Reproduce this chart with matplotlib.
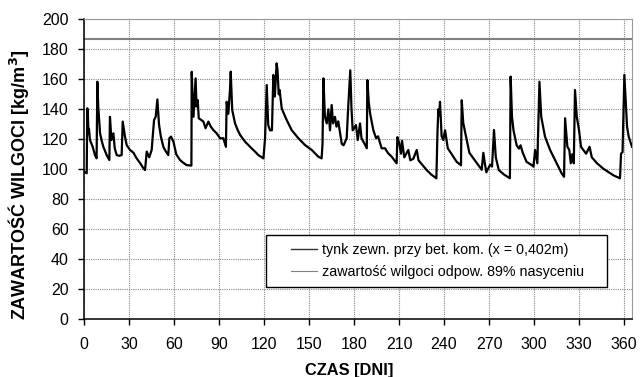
import matplotlib
matplotlib.use('Agg')
import matplotlib.pyplot as plt
from matplotlib.patches import Rectangle

plt.rcParams['font.family'] = ['Liberation Sans', 'DejaVu Sans']

# moisture content of external plaster
days = [
    0, 1.8, 2.2, 2.6, 3.0, 3.3, 4.0, 5.0, 5.8, 7.3, 8.4,
    8.9, 9.5, 10.7, 11.8, 12.9, 15.1, 16.9,
    17.3, 18.3, 19.6, 20.5, 21.8, 23.5, 25.1,
    25.8, 27.3, 28.5, 30.7, 33, 35.1, 37.5, 39.6, 40.7,
    41.8, 43.5, 45.1, 46.7, 47.8, 48.9, 50.0, 51.2, 52.9, 54.5, 56.2,
    56.9, 58.0, 59.6, 61.5, 64.0, 66, 68.4, 71.6,
    71.8, 72.3, 73.0, 74.4, 75.0, 75.8, 76.5, 78.0, 79.6, 81.0, 82.9, 84.5, 86.2, 88.4, 90.7, 92.9, 94.6,
    95.1, 96.2, 97.3, 97.8, 98.8, 100.7, 102.3, 104.0, 107.3, 110.7, 114.0, 116.2, 119.6,
    120.7, 121.8, 122.8, 124.0, 125.3, 126.2, 127.2, 128.4, 129.0, 129.8, 130.4, 131.8, 133.5, 135.1, 138.4,
    142.9, 147.3, 151.8, 156.2, 158.4,
    159.0, 159.6, 160.6, 161.8, 162.9, 164.0, 165.1, 166.0, 167.3, 168.3, 169.5, 171.8, 173.0, 175.1, 176.2,
    177.5, 178.3, 179.1, 181.3, 182.5, 184.0, 185.0, 187.0, 188.5,
    188.9, 189.8, 190.7, 192.9, 194.7, 196.0, 198.4, 200.7, 202.5, 205.1, 208.4,
    208.9, 210.2, 211.3, 212.0, 213.5, 216.2, 217.5, 219.5, 221.8, 223.0, 225.5, 228.4, 231.5, 234.9,
    235.6, 236.2, 236.9, 237.3, 238.4, 239.5, 240.7, 241.5, 242.5, 244.5, 248.4, 251.3,
    251.8, 252.8, 254.0, 256.9, 260.5, 265.1, 266.2, 267.2, 268.2, 270.7, 272.0,
    273.3, 274.5, 276.5, 280.0, 283.9,
    284.4, 285.3, 286.3, 288.4, 290.0, 291.0, 292.5, 295.0, 298.4, 299.6, 300.7, 302.2,
    303.6, 304.8, 307.3, 310.7, 314.0, 318.4, 320.0,
    320.7, 322.2, 323.5, 324.5, 325.5, 326.5,
    327.3, 328.5, 330.0, 331.3, 334.7, 337.0, 338.5, 342.0, 346.2, 352.9, 357.3,
    358.0, 359.0, 360.2, 361.2, 362.0, 363.1, 365.3,
]
moisture = [
    98.4, 97.4, 140.7, 136, 124, 127, 119.5, 117, 115, 109.5, 107.3,
    158.4, 141.8, 124, 119, 115, 109.5, 106.2,
    135, 119.5, 124, 114, 109.5, 109, 109.5,
    131.8, 121.8, 116, 112.9, 111, 107.3, 104, 100.7, 99.5,
    111.8, 108, 112.9, 132.9, 135, 146.6, 130, 122, 115, 112, 109.5,
    120.7, 121.8, 118.5, 110, 106.2, 104.5, 102.8, 102.5,
    165, 150.6, 135, 160.6, 141.8, 146.2, 134, 133, 131.8, 127.4, 131.8, 128.5, 126.2, 124, 120.7, 120.7, 115,
    145, 137, 152.9, 165.1, 139.5, 130.6, 126.5, 123, 118.5, 115, 111.8, 109.5, 107.3,
    120.7, 156.2, 129.5, 126, 126, 162.9, 148.5, 170.6, 166, 150, 152.9, 140.7, 136.5, 132.9, 126.2,
    120.7, 116.2, 112.9, 108.4, 107.3,
    117, 160.6, 135, 130.6, 140, 126, 142.9, 130.6, 135, 128.4, 132, 117, 116, 120.7, 142.9,
    166, 140.7, 126, 129.5, 119.5, 130.6, 120.7, 117, 114,
    159.5, 145, 137.3, 126, 120.7, 122, 114, 114, 111, 108.4, 104,
    121.4, 117, 110.4, 119, 108, 112.9, 106, 107, 112.9, 106, 103, 99.5, 96.5, 94,
    124, 140, 136, 145, 122, 119.5, 126, 120.7, 114, 111, 105, 102.7,
    146, 131, 125, 111, 106, 99.7, 111, 104, 98, 103, 101.8,
    126.2, 108, 99.5, 96.5, 94,
    161.8, 135, 126, 116, 113.8, 116, 111, 105, 102.8, 101.8, 112.9, 104,
    158.4, 135, 121.8, 112.9, 106.2, 97.3, 95,
    134, 115.1, 112.9, 104, 110, 104,
    152.9, 135, 126, 115, 110.4, 115, 108, 104, 100.4, 96, 94,
    110.4, 111.5, 162.9, 144, 128.4, 121.8, 115,
]

saturation_89 = 187
x_ticks = list(range(0, 361, 30))
y_ticks = list(range(0, 201, 20))

label_series = 'tynk zewn. przy bet. kom. (x = 0,402m)'
label_sat = 'zawartość wilgoci odpow. 89% nasyceniu'

fig = plt.figure(figsize=(6.4, 3.77), dpi=100)
ax = fig.add_axes([0.13125, 0.153, 0.85625, 0.7958])

ax.plot(days, moisture, color='black', linewidth=1.6, label=label_series)
ax.axhline(saturation_89, color='#808080', linewidth=1.5, label=label_sat)

ax.set_xlim(0, 365.3)
ax.set_ylim(0, 200)
ax.set_xticks(x_ticks)
ax.set_yticks(y_ticks)
ax.tick_params(direction='out', length=4, width=1, labelsize=11.5)
ax.tick_params(axis='x', pad=9)
ax.tick_params(axis='y', pad=7)

ax.grid(True, color='#888888', linestyle=(0, (1, 1)), linewidth=0.8)
ax.set_axisbelow(True)

for side in ('left', 'bottom'):
    ax.spines[side].set_color('black')
    ax.spines[side].set_linewidth(1.1)
for side in ('top', 'right'):
    ax.spines[side].set_color('#999999')
    ax.spines[side].set_linewidth(0.8)

ax.set_xlabel('CZAS [DNI]', fontsize=11.8, fontweight='bold')
ax.set_ylabel('ZAWARTOŚĆ WILGOCI [kg/m$^\\mathbf{3}$]', fontsize=13, fontweight='bold')
ax.xaxis.set_label_coords(0.4836, -0.146)
ax.yaxis.set_label_coords(-0.097, 0.45)

# legend box drawn separately so the entries can sit inset like in the original
ax.add_patch(Rectangle((0.3316, 0.109), 0.6225, 0.172, transform=ax.transAxes,
                       facecolor='white', edgecolor='black', linewidth=1.0, zorder=4))
leg = ax.legend(loc='center', bbox_to_anchor=(0.645, 0.195), frameon=False,
                fontsize=10.3, handlelength=1.8, handletextpad=0.35,
                labelspacing=0.55, borderpad=0, borderaxespad=0)
leg.set_zorder(5)
leg.get_lines()[0].set_linewidth(1.0)
leg.get_lines()[0].set_color('#333333')
leg.get_lines()[1].set_linewidth(0.8)

fig.savefig('out.png', dpi=100)
